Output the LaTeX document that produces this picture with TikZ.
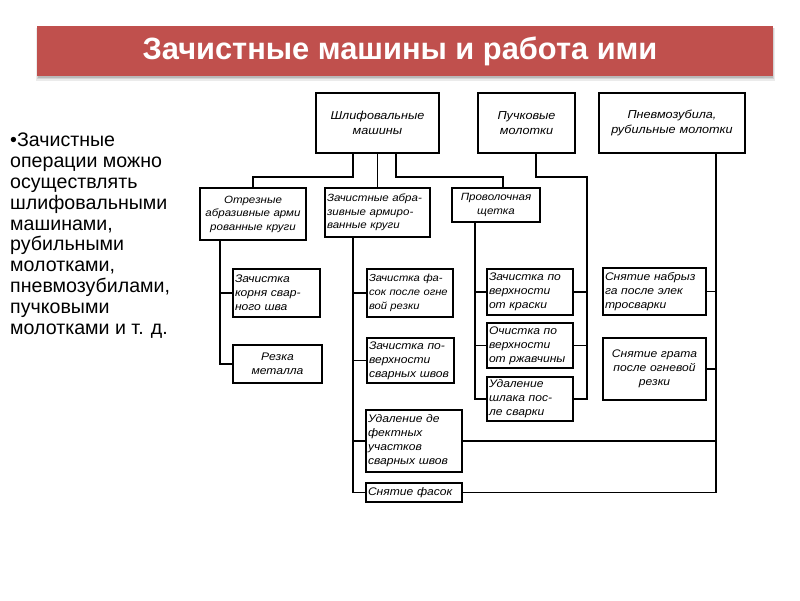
\documentclass[tikz,border=0pt]{standalone}
\usepackage{fontspec}
\setmainfont{Liberation Sans}
\newfontfamily\drawfont[FakeStretch=1.1]{Liberation Sans}
\definecolor{titlered}{RGB}{192,80,77}
\begin{document}
\begin{tikzpicture}[x=1pt,y=-1pt,
  box/.style={draw=black, line width=1.5pt, rectangle, inner xsep=2pt, inner ysep=0pt,
    font=\drawfont\itshape\fontsize{11}{14}\selectfont, align=left},
  midbox/.style={box, font=\drawfont\itshape\fontsize{10.5}{13.5}\selectfont},
  topbox/.style={box, align=center, font=\drawfont\itshape\fontsize{11.5}{15}\selectfont},
  link/.style={draw=black, line width=1.4pt},
]
\useasboundingbox (0,0) rectangle (800,600);
\fill[white] (0,0) rectangle (800,600);
% title bar with shadow
\fill[black, opacity=0.08] (36,28) rectangle (775,81);
\fill[black, opacity=0.10] (37,28) rectangle (774,79);
\fill[black, opacity=0.12] (38,28) rectangle (773,77.5);
\fill[titlered] (37,26) rectangle (773,76);
\node[text=white, font=\fontsize{30.8}{34}\selectfont\bfseries, inner sep=0] (title) at (400,51) {Зачистные машины и работа ими};
% left text
\node[anchor=north west, align=left, inner sep=0, font=\fontsize{19.6}{20.8}\selectfont] (lt) at (10,133)
 {•Зачистные\\операции можно\\осуществлять\\шлифовальными\\машинами,\\рубильными\\молотками,\\пневмозубилами,\\пучковыми\\молотками и т. д.};
% top level
\node[topbox, text width=119, minimum height=60] (B1) at (377.5,123) {Шлифовальные\\машины};
\node[topbox, text width=93, minimum height=60] (B2) at (526.5,123) {Пучковые\\молотки};
\node[topbox, text width=142, minimum height=60] (B3) at (672,123) {Пневмозубила,\\рубильные молотки};
% middle level
\node[midbox, align=center, text width=102, minimum height=52] (M1) at (253,214) {Отрезные\\абразивные арми\\рованные круги};
\node[midbox, text width=101, minimum height=49] (M2) at (377.5,212.5) {Зачистные абра-\\зивные армиро-\\ванные круги};
\node[midbox, align=center, text width=84, minimum height=34] (M3) at (496,205) {Проволочная\\щетка};
% leaves
\node[box, text width=83, minimum height=48] (L1) at (276.5,293) {Зачистка\\корня свар-\\ного шва};
\node[box, align=center, text width=85, minimum height=38] (L2) at (277.5,364) {Резка\\металла};
\node[box, text width=82, minimum height=48, font=\drawfont\itshape\fontsize{10.2}{14}\selectfont] (C1) at (410,293) {\mbox{Зачистка фа-}\\\mbox{сок после огне}\\\mbox{вой резки}};
\node[box, text width=83, minimum height=45] (C2) at (410.5,360.5) {Зачистка по-\\верхности\\сварных швов};
\node[box, text width=92, minimum height=62] (C3) at (414,441) {Удаление де\\фектных\\участков\\сварных швов};
\node[box, text width=92, minimum height=19] (C4) at (414,492.5) {Снятие фасок};
\node[box, text width=82, minimum height=46] (R1) at (530,292) {Зачистка по\\верхности\\от краски};
\node[box, text width=82, minimum height=45] (R2) at (530,345.5) {Очистка по\\верхности\\от ржавчины};
\node[box, text width=82, minimum height=44] (R3) at (530,399) {Удаление\\шлака пос-\\ле сварки};
\node[box, text width=99, minimum height=47] (P1) at (654.5,291.5) {Снятие набрыз\\га после элек\\тросварки};
\node[box, align=center, text width=99, minimum height=62] (P2) at (654.5,369) {Снятие грата\\после огневой\\резки};
% junction coordinates
\coordinate (j1) at (353,177);
\coordinate (j2) at (396,177);
\coordinate (j3) at (503,177);
\coordinate (j4) at (536,177);
\coordinate (j5) at (587,177);
\coordinate (k1) at (220,0);
\coordinate (k2) at (353,0);
\coordinate (k3) at (475,0);
\coordinate (k4) at (716,0);
% connectors
\draw[link] (B1.south -| j1) -- (j1) -| (M1.north);
\draw[link] (B1.south -| M2.north) -- (M2.north);
\draw[link] (B1.south -| j2) -- (j2) -- (j3) -- (j3 |- M3.north);
\draw[link] (B2.south -| j4) -- (j4) -- (j5) -- (j5 |- R3.east) -- (R3.east);
\draw[link] (j5 |- R1.east) -- (R1.east);
\draw[link] (j5 |- R2.east) -- (R2.east);
\draw[link] (M1.south -| k1) -- (k1 |- L2.west) -- (L2.west);
\draw[link] (k1 |- L1.west) -- (L1.west);
\draw[link] (M2.south -| k2) -- (k2 |- C4.west) -- (C4.west);
\draw[link] (k2 |- C1.west) -- (C1.west);
\draw[link] (k2 |- C2.west) -- (C2.west);
\draw[link] (k2 |- C3.west) -- (C3.west);
\draw[link] (M3.south -| k3) -- (k3 |- R3.west) -- (R3.west);
\draw[link] (k3 |- R1.west) -- (R1.west);
\draw[link] (k3 |- R2.west) -- (R2.west);
\draw[link] (B3.south -| k4) -- (k4 |- C4.east) -- (C4.east);
\draw[link] (k4 |- P1.east) -- (P1.east);
\draw[link] (k4 |- P2.east) -- (P2.east);
\draw[link] (k4 |- C3.east) -- (C3.east);
\end{tikzpicture}
\end{document}
